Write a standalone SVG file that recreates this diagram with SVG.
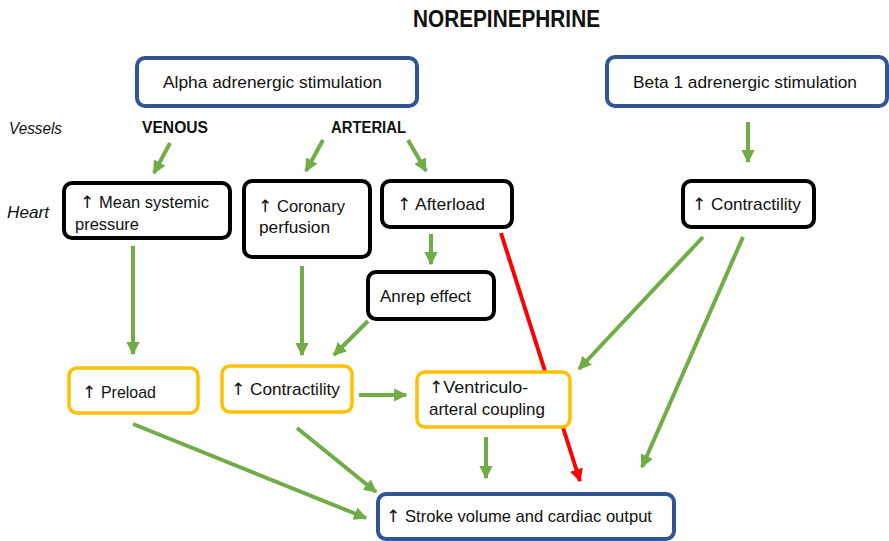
<svg xmlns="http://www.w3.org/2000/svg" width="889" height="541" viewBox="0 0 889 541">
<defs>
<style>
text{font-family:"Liberation Sans",Arial,sans-serif;font-size:17px;fill:#111}
.t{font-size:23px;font-weight:bold}
.b{font-weight:bold;font-size:16px}
.i{font-style:italic}
.ar{font-family:"DejaVu Sans",sans-serif}
.blue{fill:#fff;stroke:#2F5597;stroke-width:4}
.blk{fill:#fff;stroke:#000;stroke-width:4}
.yel{fill:#fff;stroke:#FFC000;stroke-width:3.5}
.g{stroke:#70AD47;stroke-width:4;fill:none;marker-end:url(#ag)}
.r{stroke:#FF0000;stroke-width:4;fill:none;marker-end:url(#ar)}
</style>
<marker id="ag" viewBox="0 0 10 10" refX="9" refY="5" markerWidth="3.3" markerHeight="3.3" orient="auto" markerUnits="strokeWidth"><path d="M0,0 L10,5 L0,10 z" fill="#70AD47"/></marker>
<marker id="ar" viewBox="0 0 10 10" refX="9" refY="5" markerWidth="3.3" markerHeight="3.3" orient="auto" markerUnits="strokeWidth"><path d="M0,0 L10,5 L0,10 z" fill="#FF0000"/></marker>
</defs>
<rect width="889" height="541" fill="#fff"/>
<text class="t" x="413" y="27" textLength="187" lengthAdjust="spacingAndGlyphs">NOREPINEPHRINE</text>
<text class="i" x="9" y="134" textLength="53" lengthAdjust="spacingAndGlyphs">Vessels</text>
<text class="b" x="142" y="133" textLength="66" lengthAdjust="spacingAndGlyphs">VENOUS</text>
<text class="b" x="331" y="133" textLength="75" lengthAdjust="spacingAndGlyphs">ARTERIAL</text>
<text class="i" x="7" y="218" textLength="42" lengthAdjust="spacingAndGlyphs">Heart</text>
<g id="connectors">
<path class="g" d="M170,143 L154,173"/>
<path class="g" d="M323,140 L306,171"/>
<path class="g" d="M408,140 L426,171"/>
<path class="g" d="M748,122 L748,162"/>
<path class="g" d="M133,246 L133,354"/>
<path class="g" d="M302,266 L302,355"/>
<path class="g" d="M431,234 L431,264"/>
<path class="g" d="M368,321 L334,355"/>
<path class="g" d="M359,395 L406,395"/>
<path class="g" d="M486,437 L486,478"/>
<path class="r" d="M501,233 L580,481"/>
<path class="g" d="M703,237 L579,369"/>
<path class="g" d="M743,237 L642,467"/>
<path class="g" d="M133,424 L366,518"/>
<path class="g" d="M297,428 L376,492"/>
</g>
<g id="alpha"><rect class="blue" x="137" y="58" width="280" height="48" rx="8"/><text x="163" y="88" textLength="219" lengthAdjust="spacingAndGlyphs">Alpha adrenergic stimulation</text></g>
<g id="beta"><rect class="blue" x="607" y="57" width="280" height="49" rx="8"/><text x="633" y="88" textLength="224" lengthAdjust="spacingAndGlyphs">Beta 1 adrenergic stimulation</text></g>
<g id="msp"><rect class="blk" x="64" y="183" width="166" height="55" rx="8"/><text x="80" y="208"><tspan class="ar">↑</tspan> <tspan textLength="110" lengthAdjust="spacingAndGlyphs">Mean systemic</tspan></text><text x="75" y="230" textLength="64" lengthAdjust="spacingAndGlyphs">pressure</text></g>
<g id="coronary"><rect class="blk" x="244" y="181" width="126" height="76" rx="8"/><text x="258" y="212"><tspan class="ar">↑</tspan> <tspan textLength="68" lengthAdjust="spacingAndGlyphs">Coronary</tspan></text><text x="259" y="233" textLength="71" lengthAdjust="spacingAndGlyphs">perfusion</text></g>
<g id="afterload"><rect class="blk" x="382" y="181" width="130" height="46" rx="8"/><text x="397" y="210"><tspan class="ar">↑</tspan> <tspan textLength="70" lengthAdjust="spacingAndGlyphs">Afterload</tspan></text></g>
<g id="contract-beta"><rect class="blk" x="683" y="181" width="131" height="46" rx="8"/><text x="692" y="210"><tspan class="ar">↑</tspan> <tspan textLength="90" lengthAdjust="spacingAndGlyphs">Contractility</tspan></text></g>
<g id="anrep"><rect class="blk" x="368" y="272" width="126" height="47" rx="8"/><text x="380" y="302" textLength="91" lengthAdjust="spacingAndGlyphs">Anrep effect</text></g>
<g id="preload"><rect class="yel" x="69" y="368" width="129" height="45" rx="8"/><text x="82" y="398"><tspan class="ar">↑</tspan> <tspan textLength="55" lengthAdjust="spacingAndGlyphs">Preload</tspan></text></g>
<g id="contract"><rect class="yel" x="222" y="366" width="130" height="46" rx="8"/><text x="231" y="395"><tspan class="ar">↑</tspan> <tspan textLength="90" lengthAdjust="spacingAndGlyphs">Contractility</tspan></text></g>
<g id="vac"><rect class="yel" x="417" y="372" width="153" height="55" rx="8"/><text x="429" y="393"><tspan class="ar">↑</tspan><tspan textLength="85" lengthAdjust="spacingAndGlyphs">Ventriculo-</tspan></text><text x="429" y="415" textLength="116" lengthAdjust="spacingAndGlyphs">arteral coupling</text></g>
<g id="stroke"><rect class="blue" x="378" y="494" width="296" height="45" rx="8"/><text x="386" y="522"><tspan class="ar">↑</tspan> <tspan textLength="247" lengthAdjust="spacingAndGlyphs">Stroke volume and cardiac output</tspan></text></g>
</svg>
